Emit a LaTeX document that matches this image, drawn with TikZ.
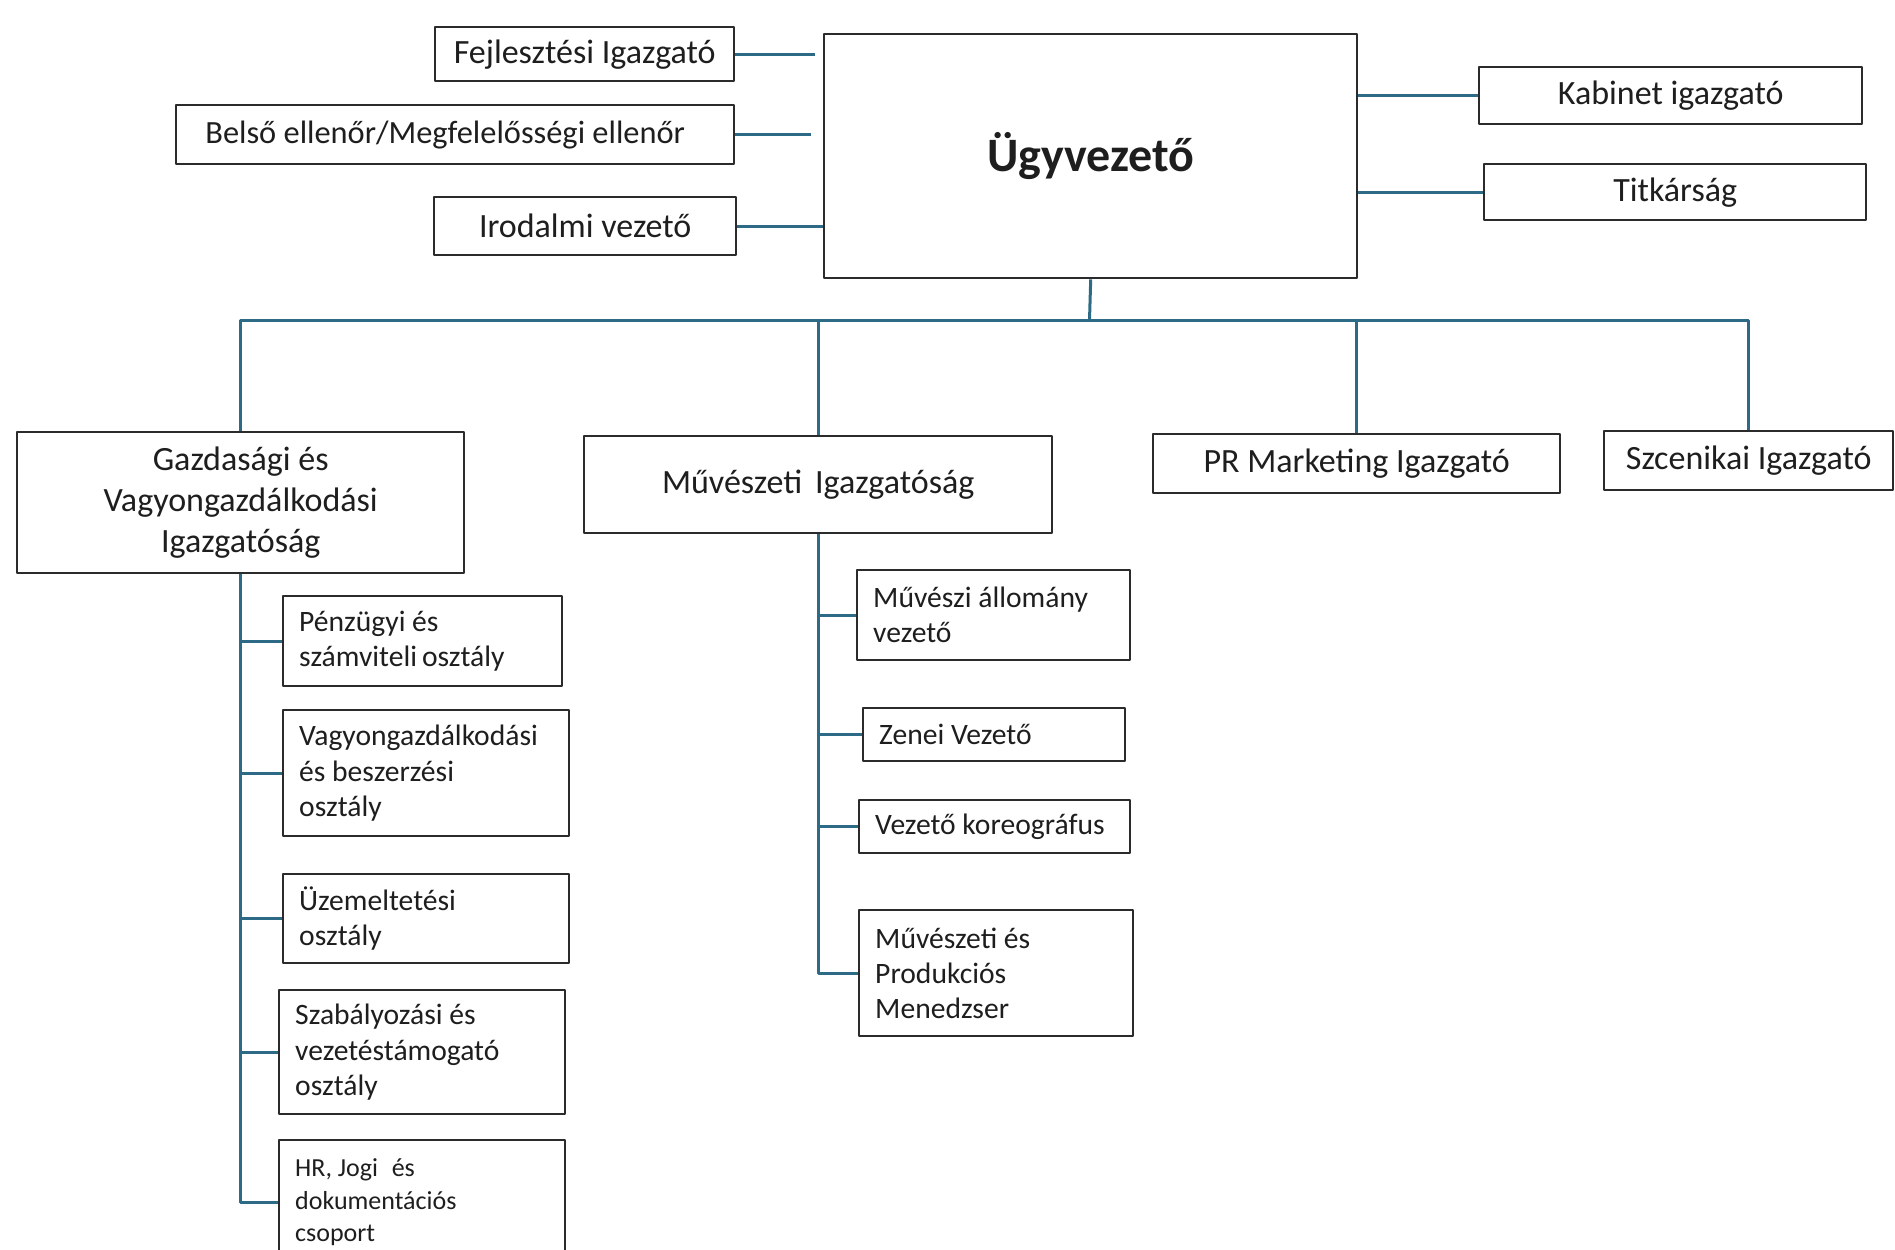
\documentclass[tikz,border=0pt]{standalone}
\usepackage{fontspec}
\setmainfont{Carlito}
\definecolor{ink}{HTML}{1E1E1E}
\definecolor{frame}{HTML}{2B2B2B}
\definecolor{wire}{HTML}{2C6A85}
\newcommand{\mainsize}{\fontsize{17}{20.4}\selectfont}
\newcommand{\subsize}{\fontsize{14.8}{17.6}\selectfont}
\newcommand{\smallsize}{\fontsize{13}{16.2}\selectfont}
\tikzset{
  every picture/.style = {line join=round},
  box/.style 2 args    = {draw=frame, line width=1.2pt, text=ink, font=\mainsize,
                          inner sep=0pt, minimum width={#1*0.5pt}, minimum height={#2*0.5pt},
                          anchor=north west, align=center},
  dept/.style 2 args   = {draw=frame, line width=1.2pt, text=ink, font=\subsize,
                          inner xsep=8pt, inner ysep=0pt, text width={#1*0.5pt-16pt},
                          minimum height={#2*0.5pt}, anchor=north west, align=flush left},
  link/.style          = {draw=wire, line width=1.5pt},
}

\begin{document}
\begin{tikzpicture}[x=0.5pt, y=-0.5pt]
  \useasboundingbox (0,0) rectangle (1895,1249);
  \fill[white] (0,0) rectangle (1895,1249);

  % head of the house and its staff
  \node[box={533}{244}, font=\fontsize{24}{28}\selectfont\bfseries] (ugy) at (823,33) {Ügyvezető};
  \node[box={299}{54}]  (fejl)  at (434,26)   {Fejlesztési Igazgató};
  \node[box={558}{59}, font=\fontsize{16.2}{19.4}\selectfont] (belso) at (175,104) {Belső ellenőr/Megfelelősségi ellenőr\hspace{10pt}};
  \node[box={302}{58}]  (irod)  at (433,196)  {Irodalmi vezető};
  \node[box={383}{57}]  (kab)   at (1478,66)  {Kabinet igazgató};
  \node[box={382}{56}]  (titk)  at (1483,163) {Titkárság};

  \draw[link, shorten >=4pt] (fejl.east)  -- (fejl.east -| ugy.west);
  \draw[link, shorten >=6pt] (belso.east) -- (belso.east -| ugy.west);
  \draw[link] (irod.east) -- (irod.east -| ugy.west);
  \draw[link] (ugy.east |- kab.west)  -- (kab.west);
  \draw[link] (ugy.east |- titk.west) -- (titk.west);

  % directorates hanging from one bus
  \node[box={447}{141}] (gazd)  at (16,431)   {Gazdasági és\\Vagyongazdálkodási\\Igazgatóság};
  \node[box={468}{97}]  (muv)   at (583,435)  {Művészeti\hspace{0.15em} Igazgatóság};
  \node[box={407}{59}]  (pr)    at (1152,433) {PR Marketing Igazgató};
  \node[box={289}{59}]  (szcen) at (1603,430) {Szcenikai Igazgató};

  \coordinate (bus) at (1089.5,320);
  \draw[link] (ugy.south) -- (bus);
  \foreach \n in {gazd,muv,pr,szcen}
    \draw[link] (\n.north) |- (bus);

  % departments under the economic directorate
  \node[dept={279}{90}]  (penz) at (282,595)  {Pénzügyi és\\számviteli\,osztály};
  \node[dept={286}{126}] (vagy) at (282,709)  {Vagyongazdálkodási\\és beszerzési\\osztály};
  \node[dept={286}{89}]  (uzem) at (282,873)  {Üzemeltetési\\osztály};
  \node[dept={286}{124}] (szab) at (278,989)  {Szabályozási és\\vezetéstámogató\\osztály};
  \node[dept={286}{124}, font=\smallsize] (hr) at (278,1139) {HR, Jogi\hspace{0.3em} és\\dokumentációs\\csoport};
  \foreach \n in {penz,vagy,uzem,szab,hr}
    \draw[link] (gazd.south) |- (\n.west);

  % and under the artistic one
  \node[dept={273}{90}]  (allom) at (856,569) {Művészi állomány\\vezető};
  \node[dept={262}{53}]  (zenei) at (862,707) {Zenei Vezető};
  \node[dept={271}{53}]  (koreo) at (858,799) {Vezető koreográfus};
  \node[dept={274}{126}] (prod)  at (858,909) {Művészeti és\\Produkciós\\Menedzser};
  \foreach \n in {allom,zenei,koreo,prod}
    \draw[link] (muv.south) |- (\n.west);
\end{tikzpicture}
\end{document}
